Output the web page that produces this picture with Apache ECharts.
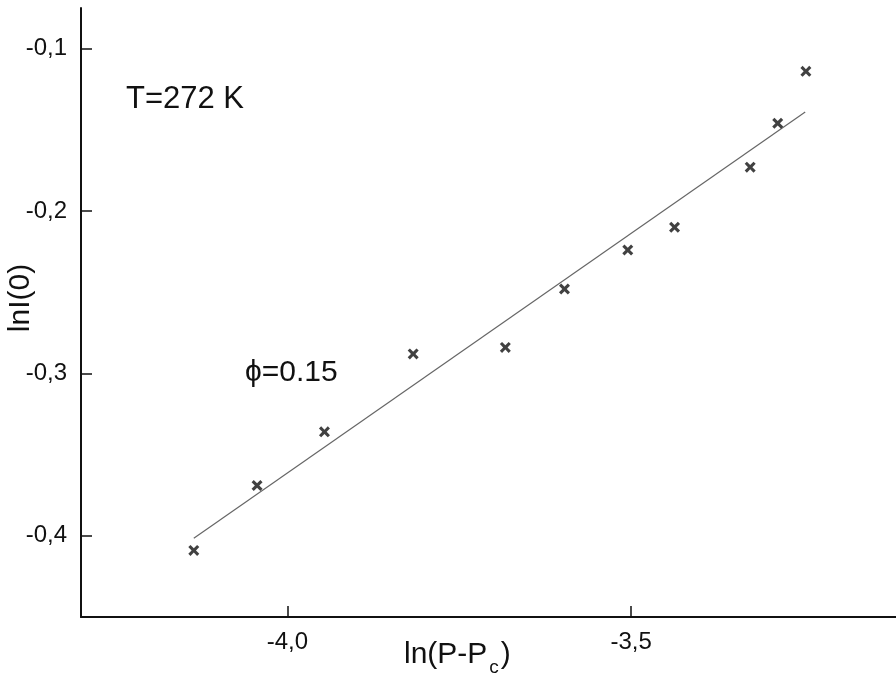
<!DOCTYPE html>
<html>
<head>
<meta charset="utf-8">
<style>
  html, body { margin: 0; padding: 0; background: #fff; }
  #main { width: 896px; height: 680px; }
</style>
<script src="https://cdn.jsdelivr.net/npm/echarts@6/dist/echarts.min.js"></script>
</head>
<body>
<div id="main"></div>
<script>
// measured points, ln(P-Pc) vs lnI(0)
var lnP = [-4.136, -4.044, -3.946, -3.817, -3.683, -3.597, -3.505, -3.437, -3.327, -3.287, -3.246];
var lnI = [-0.409, -0.369, -0.336, -0.288, -0.284, -0.248, -0.224, -0.210, -0.173, -0.146, -0.114];

// fitted line end points
var fitX = [-4.136, -3.247];
var fitY = [-0.4015, -0.139];

var xTicks = [-4.0, -3.5];
var yTicks = [-0.4, -0.3, -0.2, -0.1];

var points = lnP.map(function (x, i) { return [x, lnI[i]]; });
var fit = fitX.map(function (x, i) { return [x, fitY[i]]; });

var cross = 'path://M0,2L2,0L5,3L8,0L10,2L7,5L10,8L8,10L5,7L2,10L0,8L3,5Z';
var font = 'Liberation Sans, Arial, sans-serif';

var comma = function (v) { return v.toFixed(1).replace('.', ','); };

var myChart = echarts.init(document.getElementById('main'));

var option = {
    animation: false,
    backgroundColor: '#fff',
    grid: { left: 81, right: 0, top: 8, bottom: 63 },
    xAxis: {
        type: 'value',
        min: -4.3,
        max: -3.115,
        splitLine: { show: false },
        axisLine: { lineStyle: { color: '#111', width: 2 } },
        axisTick: {
            inside: true, length: 11, customValues: xTicks,
            lineStyle: { color: '#111', width: 1.5 }
        },
        axisLabel: {
            customValues: xTicks, margin: 13, formatter: comma,
            color: '#111', fontSize: 24, fontFamily: font
        }
    },
    yAxis: {
        type: 'value',
        min: -0.45,
        max: -0.075,
        splitLine: { show: false },
        axisLine: { lineStyle: { color: '#111', width: 2 } },
        axisTick: {
            inside: true, length: 11, customValues: yTicks,
            lineStyle: { color: '#111', width: 1.5 }
        },
        axisLabel: {
            customValues: yTicks, margin: 14, formatter: comma,
            color: '#111', fontSize: 24, fontFamily: font
        }
    },
    graphic: [
        {
            type: 'text', left: 126, top: 84,
            style: { text: 'T=272 K', fontSize: 31, fontFamily: font, fill: '#111' }
        },
        {
            type: 'text', left: 245, top: 358,
            style: { text: 'ϕ=0.15', fontSize: 30, fontFamily: font, fill: '#111' }
        },
        {
            type: 'text', x: 21, y: 298, rotation: Math.PI / 2,
            style: {
                text: 'lnI(0)', fontSize: 30, fontFamily: font, fill: '#111',
                align: 'center', verticalAlign: 'middle'
            }
        },
        {
            type: 'text', left: 404, top: 640,
            style: {
                text: 'ln(P-P{c|c})', fontSize: 30, fontFamily: font, fill: '#111',
                rich: {
                    c: { fontSize: 19, fontFamily: font, fill: '#111', padding: [26, 2, 0, 2] }
                }
            }
        }
    ],
    series: [
        {
            type: 'line',
            data: fit,
            showSymbol: false,
            lineStyle: { color: '#666', width: 1.2 },
            z: 1
        },
        {
            type: 'scatter',
            data: points,
            symbol: cross,
            symbolSize: 11,
            itemStyle: { color: '#111' },
            z: 2
        }
    ]
};

myChart.setOption(option);
</script>
</body>
</html>
